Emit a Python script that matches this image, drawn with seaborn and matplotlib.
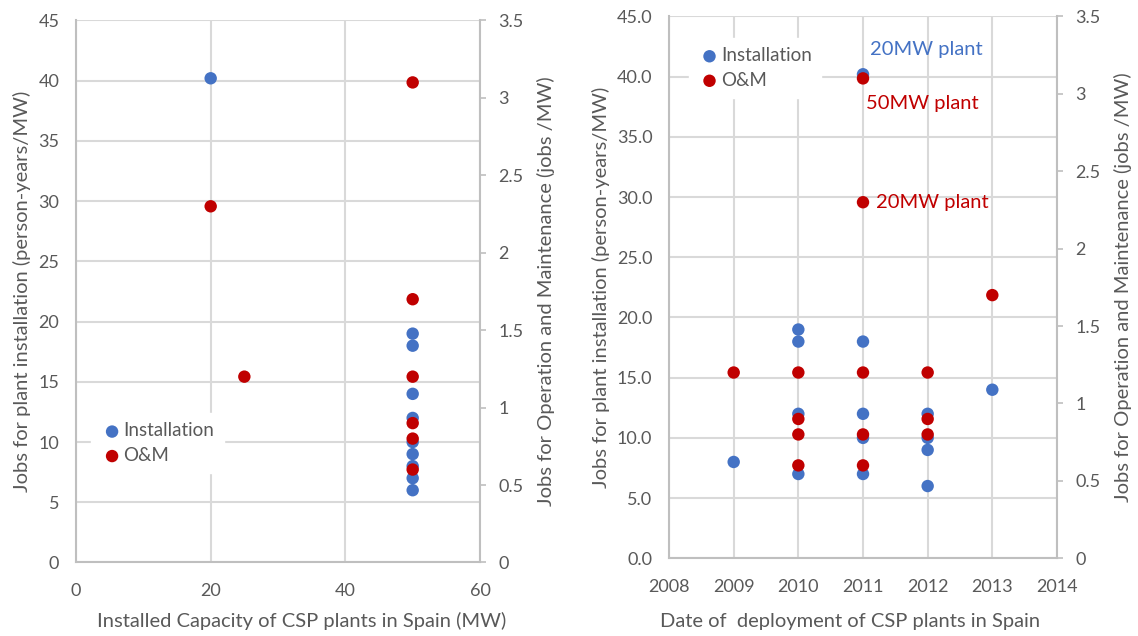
import matplotlib
matplotlib.use('Agg')
import matplotlib.pyplot as plt
import seaborn as sns
from matplotlib.ticker import FormatStrFormatter, FuncFormatter

# ---- data ----
# left panel: capacity (MW)
cap_inst_x = [20, 50, 50, 50, 50, 50, 50, 50, 50, 50]
cap_inst_y = [40.2, 19, 18, 14, 12, 10, 9, 8, 7, 6]
cap_om_x = [20, 25, 50, 50, 50, 50, 50, 50]
cap_om_y = [2.3, 1.2, 3.1, 1.7, 1.2, 0.9, 0.8, 0.6]

# right panel: year of deployment
year_inst_x = [2009, 2010, 2010, 2010, 2010, 2011, 2011, 2011, 2011, 2011,
               2012, 2012, 2012, 2012, 2013]
year_inst_y = [8, 19, 18, 12, 7, 40.2, 18, 12, 10, 7,
               12, 10, 9, 6, 14]
year_om_x = [2009, 2010, 2010, 2010, 2010, 2011, 2011, 2011, 2011, 2011,
             2012, 2012, 2012, 2013]
year_om_y = [1.2, 1.2, 0.9, 0.8, 0.6, 3.1, 2.3, 1.2, 0.8, 0.6,
             1.2, 0.9, 0.8, 1.7]

BLUE = '#4472C4'
RED = '#C00000'
GREY = '#595959'
GRID = '#D9D9D9'
AXLINE = '#BFBFBF'

sns.set_style('white')
plt.rcParams['font.family'] = ['Lato', 'DejaVu Sans']

fig = plt.figure(figsize=(11.38, 6.36), dpi=100)
ax1 = fig.add_axes([0.0668, 0.1156, 0.3550, 0.8522])
ax2 = fig.add_axes([0.5879, 0.1222, 0.3409, 0.8519])

LBL = 14.5
TICK = 13


def style_axes(ax, axr):
    for a in (ax, axr):
        for s in a.spines.values():
            s.set_visible(False)
    for name, a in (('bottom', ax), ('left', ax), ('right', axr)):
        a.spines[name].set_visible(True)
        a.spines[name].set_color(AXLINE)
        a.spines[name].set_linewidth(1.5)
    ax.grid(True, color=GRID, linewidth=1.5)
    ax.set_axisbelow(True)
    ax.tick_params(axis='x', length=0, labelsize=TICK, colors=GREY, pad=15)
    ax.tick_params(axis='y', length=0, labelsize=TICK, colors=GREY, pad=12)
    axr.tick_params(axis='y', length=4.5, width=1.2, color=AXLINE,
                    labelsize=TICK, labelcolor=GREY, pad=8.5)
    ax.set_ylim(0, 45)
    ax.set_yticks(range(0, 50, 5))
    axr.set_ylim(0, 3.5)
    axr.set_yticks([0, 0.5, 1, 1.5, 2, 2.5, 3, 3.5])
    axr.yaxis.set_major_formatter(FuncFormatter(lambda v, p: f'{v:g}'))
    axr.grid(False)
    ax.set_ylabel('Jobs for plant installation (person-years/MW)',
                  fontsize=LBL, color=GREY, labelpad=5)
    axr.set_ylabel('Jobs for Operation and Maintenance (jobs /MW)',
                   fontsize=LBL, color=GREY, labelpad=10)


def add_legend(ax, axr, anchor):
    h1, l1 = ax.get_legend_handles_labels()
    h2, l2 = axr.get_legend_handles_labels()
    leg = axr.legend(h1 + h2, l1 + l2, loc='center left', bbox_to_anchor=anchor,
                     frameon=True, fancybox=False, edgecolor='white',
                     framealpha=1, fontsize=13.5, handletextpad=0.0,
                     borderpad=0.5, handlelength=1.2, labelspacing=0.4)
    for t in leg.get_texts():
        t.set_color(GREY)


# ---- left panel ----
ax1r = ax1.twinx()
sns.scatterplot(x=cap_inst_x, y=cap_inst_y, ax=ax1, color=BLUE, s=80,
                edgecolor='none', label='Installation', legend=False, zorder=3)
sns.scatterplot(x=cap_om_x, y=cap_om_y, ax=ax1r, color=RED, s=80,
                edgecolor='none', label='O&M', legend=False, zorder=3)
style_axes(ax1, ax1r)
ax1.set_xlim(0, 60)
ax1.set_xticks([0, 20, 40, 60])
ax1.set_xlabel('Installed Capacity of CSP plants in Spain (MW)',
               fontsize=LBL, color=GREY)
ax1.xaxis.set_label_coords(0.559, -0.108, transform=ax1.transAxes)
ax1.xaxis.label.set_va('center')
add_legend(ax1, ax1r, (0.015, 0.22))

# ---- right panel ----
ax2r = ax2.twinx()
sns.scatterplot(x=year_inst_x, y=year_inst_y, ax=ax2, color=BLUE, s=80,
                edgecolor='none', label='Installation', legend=False, zorder=3)
sns.scatterplot(x=year_om_x, y=year_om_y, ax=ax2r, color=RED, s=80,
                edgecolor='none', label='O&M', legend=False, zorder=3)
style_axes(ax2, ax2r)
ax2.set_xlim(2008, 2014)
ax2.set_xticks(range(2008, 2015))
ax2.yaxis.set_major_formatter(FormatStrFormatter('%.1f'))
ax2.set_xlabel('Date of  deployment of CSP plants in Spain',
               fontsize=LBL, color=GREY)
ax2.xaxis.set_label_coords(0.4665, -0.1176, transform=ax2.transAxes)
ax2.xaxis.label.set_va('center')
add_legend(ax2, ax2r, (0.027, 0.905))

# annotations next to the 2011 points
ax2.annotate('20MW plant', xy=(2011, 40.2), xytext=(5, 17.5),
             textcoords='offset points', color=BLUE, fontsize=14.5,
             ha='left', va='center')
ax2r.annotate('50MW plant', xy=(2011, 3.1), xytext=(2, -18),
              textcoords='offset points', color=RED, fontsize=14.5,
              ha='left', va='center')
ax2r.annotate('20MW plant', xy=(2011, 2.3), xytext=(9.5, 0),
              textcoords='offset points', color=RED, fontsize=14.5,
              ha='left', va='center')

fig.savefig('out.png', dpi=100)
